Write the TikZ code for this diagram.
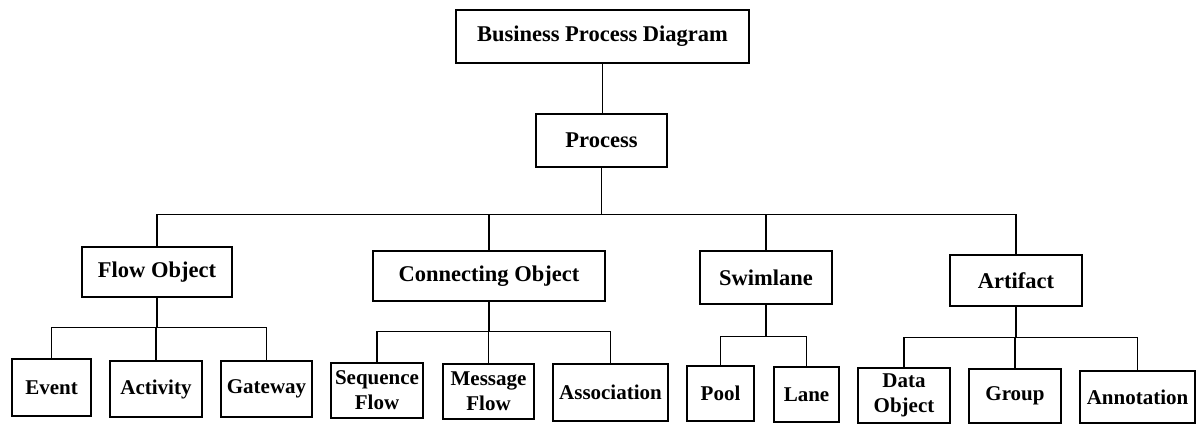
\documentclass[tikz,border=0pt]{standalone}
\usepackage{fontspec}
\setmainfont{Liberation Serif}
\begin{document}
\begin{tikzpicture}[x=1pt,y=-1pt,
  box/.style={draw, line width=1.1pt, inner sep=0pt, align=center, font=\fontsize{22.5}{26}\selectfont\bfseries},
  leaf/.style={box, font=\fontsize{21}{25}\selectfont\bfseries},
  link/.style={line width=1.1pt}]
\useasboundingbox (0,0) rectangle (1199,424);
\fill[white] (0,0) rectangle (1199,424);
% top
\node[box, minimum width=293pt, minimum height=53pt] (bpd) at (602.5,36.5) {Business Process Diagram};
\node[box, minimum width=131pt, minimum height=53pt] (proc) at (601.5,140.5) {Process};
% level 2
\node[box, minimum width=150pt, minimum height=50pt] (flow) at (157,272) {Flow Object};
\node[box, minimum width=232pt, minimum height=50pt] (conn) at (489,276) {Connecting Object};
\node[box, minimum width=132pt, minimum height=53pt] (swim) at (766,277.5) {Swimlane};
\node[box, minimum width=132pt, minimum height=51pt] (art) at (1016,280.5) {Artifact};
% leaves
\node[leaf, minimum width=79pt, minimum height=57pt] (event) at (51.5,387.5) {Event};
\node[leaf, minimum width=92pt, minimum height=56pt] (activity) at (156,389) {Activity};
\node[leaf, minimum width=91pt, minimum height=56pt] (gateway) at (266.5,389) {Gateway};
\node[leaf, minimum width=92pt, minimum height=55pt] (seq) at (377,390.5) {Sequence\\Flow};
\node[leaf, minimum width=91pt, minimum height=55pt] (msg) at (488.5,391.5) {Message\\Flow};
\node[leaf, minimum width=115pt, minimum height=57pt] (assoc) at (610.5,392.5) {Association};
\node[leaf, minimum width=67pt, minimum height=55pt] (pool) at (720.5,393.5) {Pool};
\node[leaf, minimum width=65pt, minimum height=55pt] (lane) at (806.5,394.5) {Lane};
\node[leaf, minimum width=92pt, minimum height=55pt] (data) at (904,395.5) {Data\\Object};
\node[leaf, minimum width=92pt, minimum height=54pt] (group) at (1015,396) {Group};
\node[leaf, minimum width=115pt, minimum height=52pt] (annot) at (1137.5,397) {Annotation};
% connectors
\draw[link] (bpd.south) -- (bpd.south |- proc.north);
\foreach \c in {flow,conn,swim,art}
  \draw[link] (proc.south) -- ++(0,47) -| (\c.north);
\foreach \c in {event,activity,gateway}
  \draw[link] (flow.south) -- ++(0,30) -| (\c.north);
\foreach \c in {seq,msg,assoc}
  \draw[link] (conn.south) -- ++(0,30) -| (\c.north);
\foreach \c in {pool,lane}
  \draw[link] (swim.south) -- ++(0,32) -| (\c.north);
\foreach \c in {data,group,annot}
  \draw[link] (art.south) -- ++(0,31) -| (\c.north);
\end{tikzpicture}
\end{document}
